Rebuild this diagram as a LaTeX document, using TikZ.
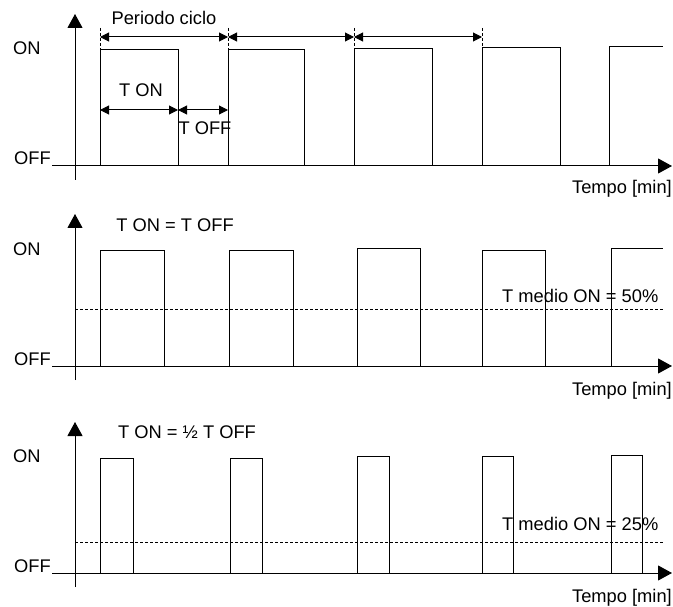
\documentclass[tikz,border=0pt]{standalone}
\usepackage{fontspec}
\setmainfont{Liberation Sans}
\usetikzlibrary{arrows.meta, positioning}

\begin{document}
\begin{tikzpicture}[
    % one unit = one pixel of the original, y pointing down
    x=1pt, y=-1pt,
    axis/.style={line width=1pt, -{Triangle[length=14pt, width=15pt]}},
    wave/.style={line width=1pt},
    dim/.style={line width=1pt, {Triangle[length=9pt, width=9pt]}-{Triangle[length=9pt, width=9pt]}},
    guide/.style={line width=0.6pt, dash pattern=on 3pt off 2pt},
    mean/.style={line width=0.8pt, dash pattern=on 3pt off 2pt},
    lbl/.style={font=\fontsize{18.3}{20}\selectfont, inner sep=0pt, anchor=base}
]
\useasboundingbox (0,0) rectangle (673,607);

%% ── Panel 1: periodo ciclo ──────────────────────────────────
\node (on1)  [lbl, anchor=base west] at (13,55)  {ON};
\node (off1) [lbl, anchor=base west] at (14,165) {OFF};
\node (time1) [lbl, anchor=base east] at (672,194) {Tempo [min]};
\node (period) [lbl] at (164,25) {Periodo ciclo};
\node (ton)  [lbl] at (141,97)  {T ON};
\node (toff) [lbl] at (205,135) {T OFF};

\foreach \x in {100,228,354,482}
    \draw [guide] (\x,28) -- (\x,166);

\draw [axis] (75,180) -- (75,14);
\draw [axis] (52,166) -- (672,166);
\foreach \a/\b/\t in {100/178/50, 228/304/50, 354/432/49, 482/560/48}
    \draw [wave] (\a,166) |- (\b,\t) -- (\b,166);
\draw [wave] (609,166) |- (663,47);

\coordinate (c0) at (100,37);
\coordinate (c1) at (228,37);
\coordinate (c2) at (354,37);
\coordinate (c3) at (482,37);
\draw [dim] (c0) -- (c1);
\draw [dim] (c1) -- (c2);
\draw [dim] (c2) -- (c3);

\coordinate (t0) at (100,110);
\coordinate (t1) at (178,110);
\coordinate (t2) at (228,110);
\draw [dim] (t0) -- (t1);
\draw [dim] (t1) -- (t2);

%% ── Panel 2: T ON = T OFF ───────────────────────────────────
\node (on2)  [lbl, anchor=base west] at (13,256) {ON};
\node (off2) [lbl, anchor=base west] at (14,365) {OFF};
\node (time2) [lbl, anchor=base east] at (672,395) {Tempo [min]};
\node (eq2)  [lbl] at (175,232) {T ON = T OFF};
\node (avg2) [lbl, anchor=base west] at (502,302) {T medio ON = 50\%};

\draw [mean] (75,309) -- (663,309);
\draw [axis] (75,380) -- (75,214);
\draw [axis] (52,366) -- (672,366);
\foreach \a/\b/\t in {100/164/251, 229/293/251, 357/420/249, 482/545/251}
    \draw [wave] (\a,366) |- (\b,\t) -- (\b,366);
\draw [wave] (611,366) |- (663,249);

%% ── Panel 3: T ON = 1/2 T OFF ───────────────────────────────
\node (on3)  [lbl, anchor=base west] at (13,462) {ON};
\node (off3) [lbl, anchor=base west] at (14,572) {OFF};
\node (time3) [lbl, anchor=base east] at (672,602) {Tempo [min]};
\node (eq3)  [lbl] at (187,438) {T ON = ½ T OFF};
\node (avg3) [lbl, anchor=base west] at (502,530) {T medio ON = 25\%};

\draw [mean] (75,542) -- (663,542);
\draw [axis] (75,587) -- (75,422);
\draw [axis] (52,573) -- (672,573);
\foreach \a/\b/\t in {100/133/458, 230/262/458, 357/389/456, 482/513/456, 611/642/455}
    \draw [wave] (\a,573) |- (\b,\t) -- (\b,573);

\end{tikzpicture}
\end{document}
